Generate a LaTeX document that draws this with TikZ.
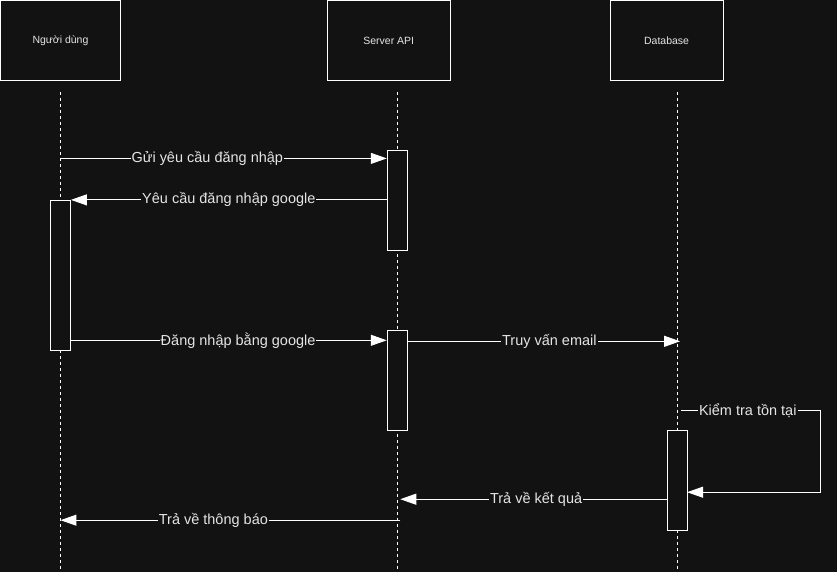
\documentclass[tikz,border=0pt]{standalone}
\usepackage{fontspec}
\setmainfont{Liberation Sans}
\usetikzlibrary{arrows.meta}
\definecolor{bgDark}{RGB}{18,18,18}
\colorlet{lineWhite}{white}
\colorlet{textLight}{white!90!black}
\NewDocumentCommand\DrawLife{mm}%
{%
\coordinate (#1top) at ({#2},92);%
\coordinate (#1bot) at ({#2},572);%
\draw[lifeline] (#1top) -- (#1bot);%
}

\begin{document}
\begin{tikzpicture}[x=1pt,y=-1pt,
  actor/.style={draw=lineWhite,fill=bgDark,line width=1pt,minimum width=#1,minimum height=80pt,
    inner sep=0pt,text=textLight,font=\fontsize{10.5}{12}\selectfont},
  act/.style={draw=lineWhite,fill=bgDark,line width=1pt,minimum width=20pt,minimum height=#1,inner sep=0pt},
  lifeline/.style={lineWhite,line width=.8pt,dash pattern=on 3pt off 3pt},
  msg/.style={lineWhite,line width=1pt,-{Triangle[length=16pt,width=11pt]}},
  lbl/.style={fill=bgDark,text=textLight,inner sep=1pt,font=\fontsize{14.5}{16}\selectfont}]
\fill[bgDark] (0,0) rectangle (837,572);
% participants
\node[actor=120pt] (user) at (60,40) {Người dùng};
\node[actor=123pt] (server) at (388.5,40) {Server API};
\node[actor=113pt] (db) at (666.5,40) {Database};
\DrawLife{user}{60}
\DrawLife{server}{397}
\DrawLife{db}{677}
% activations
\node[act=100pt] (srvA) at (397,200) {};
\node[act=150pt] (usrA) at (60,275) {};
\node[act=100pt] (srvB) at (397,380) {};
\node[act=100pt] (dbA) at (677,480) {};
% messages
\coordinate (m1) at (60,158);
\draw[msg] (m1) -- (m1 -| srvA.west) node[lbl,pos=.45] {Gửi yêu cầu đăng nhập};
\draw[msg] (srvA.west |- usrA.north east) -- (usrA.north east) node[lbl,pos=.5] {Yêu cầu đăng nhập google};
\coordinate (m3) at (70,340);
\draw[msg] (m3) -- (m3 -| srvB.west) node[lbl,pos=.53] {Đăng nhập bằng google};
\coordinate (m4) at (680,341);
\draw[msg] (m4 -| srvB.east) -- (m4) node[lbl,pos=.52] {Truy vấn email};
\coordinate (m5) at (681,410);
\coordinate (m5r) at (820,410);
\coordinate (m5e) at (687,492);
\draw[msg] (m5) -- (m5r) node[lbl,pos=.48] {Kiểm tra tồn tại} -- (m5r |- m5e) -- (m5e);
\coordinate (m6) at (400,499);
\draw[msg] (dbA.west |- m6) -- (m6) node[lbl,pos=.49] {Trả về kết quả};
\coordinate (m7) at (400,520);
\draw[msg] (m7) -- (m7 -| usrA) node[lbl,pos=.55] {Trả về thông báo};
\end{tikzpicture}
\end{document}
